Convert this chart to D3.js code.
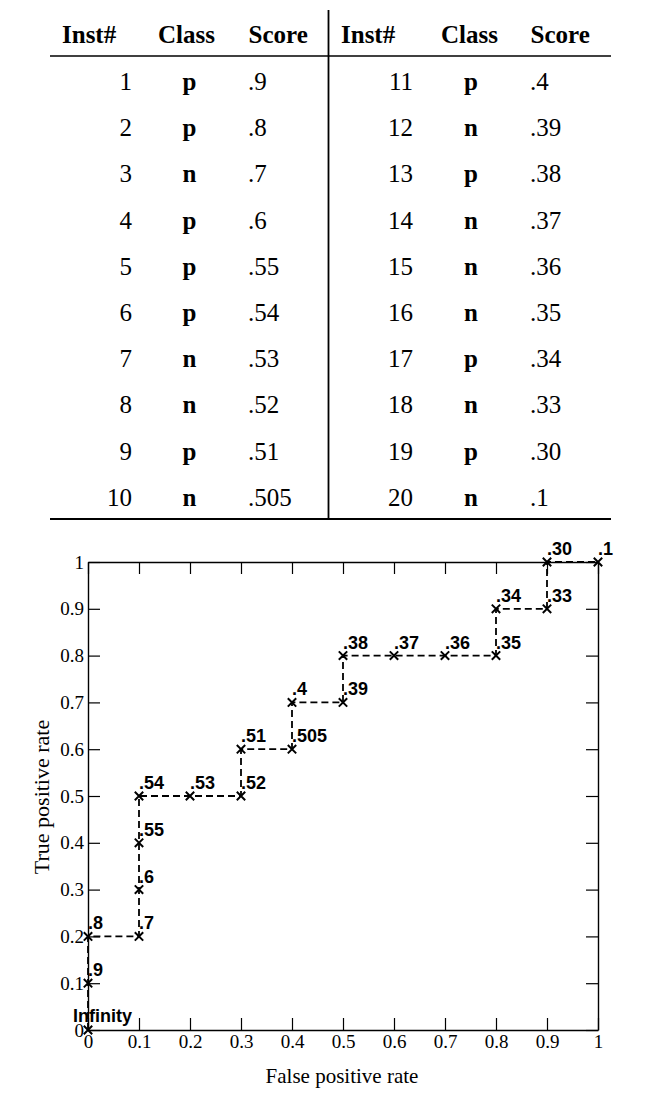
<!DOCTYPE html>
<html>
<head>
<meta charset="utf-8">
<script src="https://cdn.jsdelivr.net/npm/d3@7"></script>
<style>
  html, body { margin: 0; padding: 0; background: #fff; }
  svg { display: block; }
</style>
</head>
<body>
<div id="chart"></div>
<script>
// ---- Table data ----
const instLeft = [1, 2, 3, 4, 5, 6, 7, 8, 9, 10];
const classLeft = ["p", "p", "n", "p", "p", "p", "n", "n", "p", "n"];
const scoreLeft = [".9", ".8", ".7", ".6", ".55", ".54", ".53", ".52", ".51", ".505"];
const instRight = [11, 12, 13, 14, 15, 16, 17, 18, 19, 20];
const classRight = ["p", "n", "p", "n", "n", "n", "p", "n", "p", "n"];
const scoreRight = [".4", ".39", ".38", ".37", ".36", ".35", ".34", ".33", ".30", ".1"];
const headers = ["Inst#", "Class", "Score"];

// ---- ROC curve data ----
const fpr = [0, 0, 0, 0.1, 0.1, 0.1, 0.1, 0.2, 0.3, 0.3, 0.4, 0.4, 0.5, 0.5, 0.6, 0.7, 0.8, 0.8, 0.9, 0.9, 1];
const tpr = [0, 0.1, 0.2, 0.2, 0.3, 0.4, 0.5, 0.5, 0.5, 0.6, 0.6, 0.7, 0.7, 0.8, 0.8, 0.8, 0.8, 0.9, 0.9, 1, 1];
const pointLabels = ["Infinity", ".9", ".8", ".7", ".6", ".55", ".54", ".53", ".52", ".51", ".505", ".4", ".39", ".38", ".37", ".36", ".35", ".34", ".33", ".30", ".1"];
const tickValues = [0, 0.1, 0.2, 0.3, 0.4, 0.5, 0.6, 0.7, 0.8, 0.9, 1];
const tickLabels = ["0", "0.1", "0.2", "0.3", "0.4", "0.5", "0.6", "0.7", "0.8", "0.9", "1"];
const xTitle = "False positive rate";
const yTitle = "True positive rate";

const W = 649, H = 1097;
const serif = "'Liberation Serif', 'Times New Roman', serif";
const sans = "'Liberation Sans', Arial, Helvetica, sans-serif";

const svg = d3.select("#chart").append("svg")
  .attr("width", W).attr("height", H)
  .style("background", "#fff");

// ================= TABLE =================
const table = svg.append("g");
const tLeft = 50, tRight = 611, tDivider = 328.5;
const headerY = 42.5, headLineY = 56, firstRowY = 90, rowStep = 46.2, bottomLineY = 519;
const tFont = "25px";

const halves = [
  { inst: instLeft, cls: classLeft, score: scoreLeft, instX: 132, clsX: 189.5, scoreX: 248, hInst: 62, hCls: 186.5, hScore: 248.5 },
  { inst: instRight, cls: classRight, score: scoreRight, instX: 413, clsX: 471, scoreX: 530, hInst: 341, hCls: 469.5, hScore: 530.5 }
];

halves.forEach(h => {
  const hx = [h.hInst, h.hCls, h.hScore];
  const ha = ["start", "middle", "start"];
  table.selectAll(null).data(headers).enter().append("text")
    .attr("x", (d, i) => hx[i]).attr("y", headerY)
    .attr("text-anchor", (d, i) => ha[i])
    .style("font-family", serif).style("font-size", tFont).style("font-weight", "bold")
    .text(d => d);

  const rows = table.selectAll(null).data(h.inst.map((d, i) => i)).enter().append("g")
    .attr("transform", i => `translate(0,${firstRowY + i * rowStep})`);
  rows.append("text").attr("x", h.instX).attr("text-anchor", "end")
    .style("font-family", serif).style("font-size", tFont)
    .text(i => h.inst[i]);
  rows.append("text").attr("x", h.clsX).attr("text-anchor", "middle")
    .style("font-family", serif).style("font-size", tFont).style("font-weight", "bold")
    .text(i => h.cls[i]);
  rows.append("text").attr("x", h.scoreX).attr("text-anchor", "start")
    .style("font-family", serif).style("font-size", tFont)
    .text(i => h.score[i]);
});

table.append("line").attr("x1", tLeft).attr("x2", tRight).attr("y1", headLineY).attr("y2", headLineY)
  .attr("stroke", "#000").attr("stroke-width", 1.6);
table.append("line").attr("x1", tLeft).attr("x2", tRight).attr("y1", bottomLineY).attr("y2", bottomLineY)
  .attr("stroke", "#000").attr("stroke-width", 1.8);
table.append("line").attr("x1", tDivider).attr("x2", tDivider).attr("y1", 10).attr("y2", bottomLineY)
  .attr("stroke", "#000").attr("stroke-width", 1.8);

// ================= ROC PLOT =================
const x = d3.scaleLinear().domain([0, 1]).range([88, 598]);
const y = d3.scaleLinear().domain([0, 1]).range([1030, 562]);
const plot = svg.append("g");

const fmt = d => tickLabels[tickValues.indexOf(d)];

function styleAxis(g) {
  g.select(".domain").attr("stroke", "#000").attr("stroke-width", 1.4);
  g.selectAll(".tick line").attr("stroke", "#000").attr("stroke-width", 1.2);
  g.selectAll(".tick text").style("font-family", serif).style("font-size", "19px").attr("fill", "#000");
}

plot.append("g").attr("transform", `translate(0,${y(0)})`)
  .call(d3.axisBottom(x).tickValues(tickValues).tickFormat(fmt).tickSize(-12).tickSizeOuter(0).tickPadding(5))
  .call(styleAxis);
plot.append("g").attr("transform", `translate(${x(0)},0)`)
  .call(d3.axisLeft(y).tickValues(tickValues).tickFormat(fmt).tickSize(-12).tickSizeOuter(0).tickPadding(4))
  .call(styleAxis);
plot.append("g").attr("transform", `translate(0,${y(1)})`)
  .call(d3.axisTop(x).tickValues(tickValues).tickFormat("").tickSize(-12).tickSizeOuter(0))
  .call(styleAxis);
plot.append("g").attr("transform", `translate(${x(1)},0)`)
  .call(d3.axisRight(y).tickValues(tickValues).tickFormat("").tickSize(-12).tickSizeOuter(0))
  .call(styleAxis);

// axis titles
plot.append("text").attr("x", (x(0) + x(1)) / 2 - 1).attr("y", 1083)
  .attr("text-anchor", "middle")
  .style("font-family", serif).style("font-size", "21px")
  .text(xTitle);
plot.append("text")
  .attr("transform", `translate(49,${y(0.5) + 1}) rotate(-90)`)
  .attr("text-anchor", "middle")
  .style("font-family", serif).style("font-size", "22px")
  .text(yTitle);

// dashed curve
const pts = fpr.map((f, i) => ({ f, t: tpr[i], label: pointLabels[i] }));
const line = d3.line().x(d => x(d.f)).y(d => y(d.t));
plot.append("path").datum(pts)
  .attr("d", line)
  .attr("fill", "none").attr("stroke", "#000")
  .attr("stroke-width", 1.8).attr("stroke-dasharray", "7,4");

// cross markers
const m = 4.2;
plot.selectAll(".mk").data(pts).enter().append("path")
  .attr("class", "mk")
  .attr("d", d => {
    const cx = x(d.f), cy = y(d.t);
    return `M${cx - m},${cy - m}L${cx + m},${cy + m}M${cx - m},${cy + m}L${cx + m},${cy - m}`;
  })
  .attr("stroke", "#000").attr("stroke-width", 2).attr("fill", "none");

// point labels
plot.selectAll(".pl").data(pts).enter().append("text")
  .attr("class", "pl")
  .attr("x", d => d.label === "Infinity" ? x(d.f) - 15 : x(d.f))
  .attr("y", d => d.label === "Infinity" ? y(d.t) - 8 : y(d.t) - 7)
  .style("font-family", sans).style("font-size", "18px").style("font-weight", "bold")
  .text(d => d.label);
</script>
</body>
</html>
